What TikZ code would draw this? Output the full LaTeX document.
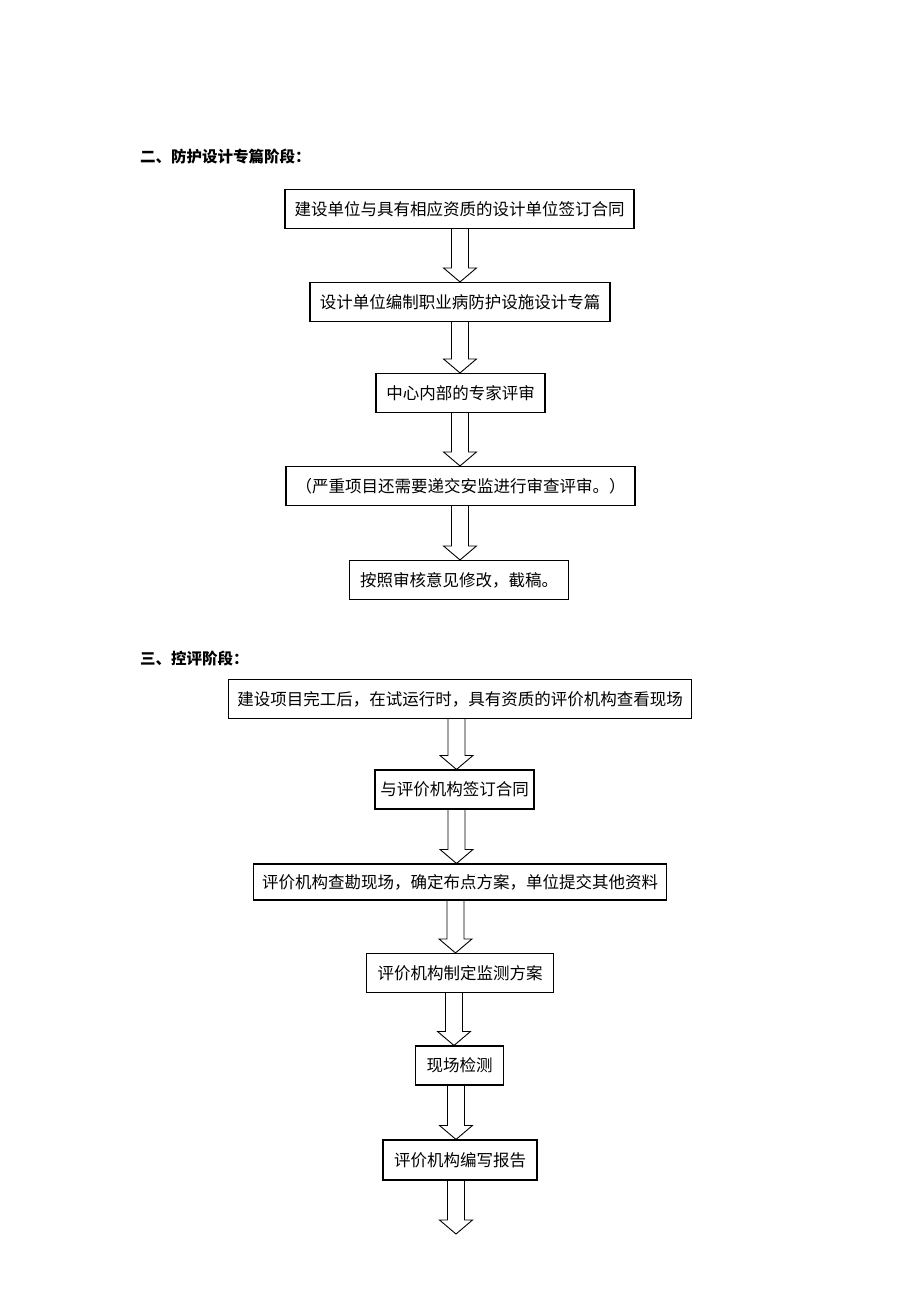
\documentclass[tikz,border=0pt]{standalone}
\usepackage{fontspec}
\newfontfamily\cjk{Noto Sans CJK SC}
\usetikzlibrary{calc}
\newcommand{\blockarrow}[3]{%
  \draw [hollow] let \p1=(#1), \p2=(#2) in
    ({#3pt-8.5pt},\y1) -- ({#3pt-8.5pt},\y2+14pt) -- ({#3pt-16.5pt},\y2+14pt) -- (#3pt,\y2)
    -- ({#3pt+16.5pt},\y2+14pt) -- ({#3pt+8.5pt},\y2+14pt) -- ({#3pt+8.5pt},\y1);}
\begin{document}
\begin{tikzpicture}
    [
    x=1pt, y=-1pt,
    stepbox/.style={draw,line width=1.1pt,inner sep=0pt,minimum height=39pt,font=\cjk\fontsize{16.5}{18}\selectfont},
    heading/.style={anchor=west,inner sep=0pt,font=\cjk\bfseries\fontsize{15.5}{17}\selectfont},
    hollow/.style={line width=0.9pt,line join=miter}
    ]
    \useasboundingbox (0,0) rectangle (920,1302);
    % design stage
    \node (h1) at (140,157) [heading] {二、防护设计专篇阶段：};
    \node (b1) at (459.5,209) [stepbox,minimum width=349pt] {建设单位与具有相应资质的设计单位签订合同};
    \node (b2) at (460,302) [stepbox,minimum width=300pt] {设计单位编制职业病防护设施设计专篇};
    \node (b3) at (460.5,393) [stepbox,minimum width=169pt] {中心内部的专家评审};
    \node (b4) at (460.5,486) [stepbox,minimum width=349pt] {（严重项目还需要递交安监进行审查评审。）};
    \node (b5) at (459,580) [stepbox,minimum width=219pt] {按照审核意见修改，截稿。};
    \blockarrow{b1.south}{b2.north}{460}
    \blockarrow{b2.south}{b3.north}{460}
    \blockarrow{b3.south}{b4.north}{460}
    \blockarrow{b4.south}{b5.north}{460}
    % evaluation stage
    \node (h2) at (140,659) [heading] {三、控评阶段：};
    \node (c1) at (460,699) [stepbox,minimum width=463pt] {建设项目完工后，在试运行时，具有资质的评价机构查看现场};
    \node (c2) at (454.5,789.5) [stepbox,minimum width=159pt] {与评价机构签订合同};
    \node (c3) at (460,882) [stepbox,minimum width=413pt,minimum height=36pt] {评价机构查勘现场，确定布点方案，单位提交其他资料};
    \node (c4) at (460,973) [stepbox,minimum width=187pt] {评价机构制定监测方案};
    \node (c5) at (459.7,1065.5) [stepbox,minimum width=88pt] {现场检测};
    \node (c6) at (460,1160) [stepbox,minimum width=154pt,minimum height=40pt] {评价机构编写报告};
    \coordinate (end) at (456,1234);
    \blockarrow{c1.south}{c2.north}{456.5}
    \blockarrow{c2.south}{c3.north}{456.5}
    \blockarrow{c3.south}{c4.north}{455.5}
    \blockarrow{c4.south}{c5.north}{454}
    \blockarrow{c5.south}{c6.north}{456}
    \blockarrow{c6.south}{end}{456}
\end{tikzpicture}
\end{document}
